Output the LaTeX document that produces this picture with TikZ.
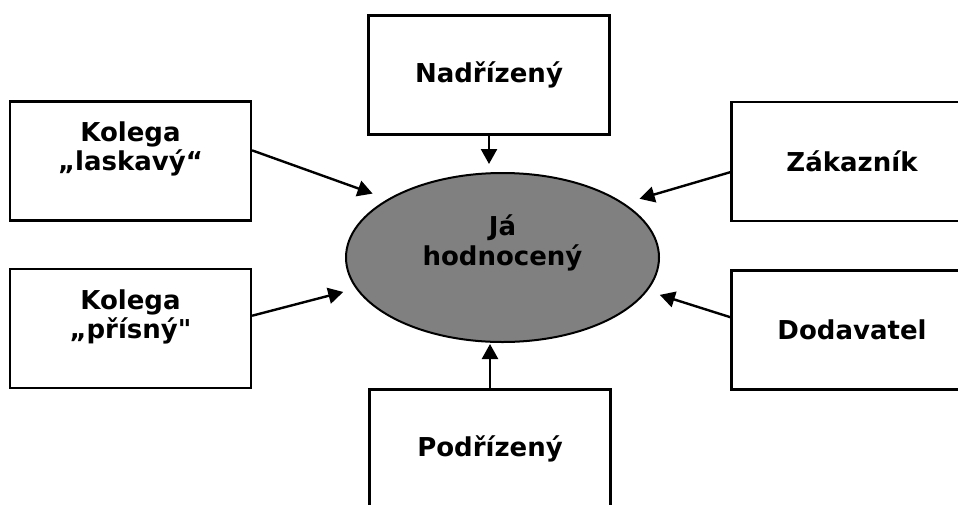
\documentclass[tikz,border=0pt]{standalone}
\usepackage{fontspec}
\setmainfont{DejaVu Sans}
\newfontfamily\qfont{DejaVu Sans}
\usetikzlibrary{shapes.geometric,arrows.meta}
\definecolor{egray}{RGB}{128,128,128}
\tikzset{
  box/.style={draw, line width=2.2pt, minimum width=241pt, minimum height=119pt,
    inner sep=0pt, align=center, font=\fontsize{26}{29}\selectfont\bfseries},
  arr/.style={-{Triangle[length=15pt,width=16pt]}, line width=2.4pt},
  me/.style={ellipse, draw, line width=2pt, fill=egray, minimum width=313pt,
    minimum height=169pt, inner sep=0pt, align=center,
    font=\fontsize{26}{30}\selectfont\bfseries}
}
\begin{document}
\begin{tikzpicture}[x=1pt,y=-1pt]
\useasboundingbox (0,0) rectangle (958,504);
\clip (0,0) rectangle (958,504);
\node[me] (ja) at (502.5,257.5) {Já\\hodnocený\\[5pt]\mbox{}};
\node[box] (nd) at (489,75) {Nadřízený};
\node[box] (pd) at (490,449) {Podřízený};
\node[box] (kl) at (130.5,161) {Kolega\\„laskavý“\\\mbox{}};
\node[box] (kp) at (130.5,328.5) {Kolega\\„přísný{\qfont\bfseries"}\\\mbox{}};
\node[box] (zk) at (852,161.5) {Zákazník};
\node[box] (dv) at (852,330) {Dodavatel};
\draw[arr, shorten >=8pt] (nd.south) -- (nd.south |- ja.north);
\draw[arr, shorten >=1pt] (pd.north) -- (pd.north |- ja.south);
\draw[arr, shorten >=16pt] (kl.5) -- (ja.153.5);
\draw[arr, shorten >=13pt] (kp.6) -- (ja.192.7);
\draw[arr, shorten >=16pt] (zk.185.4) -- (ja.24.6);
\draw[arr, shorten >=13pt] (dv.174.3) -- (ja.347.3);
\end{tikzpicture}
\end{document}
